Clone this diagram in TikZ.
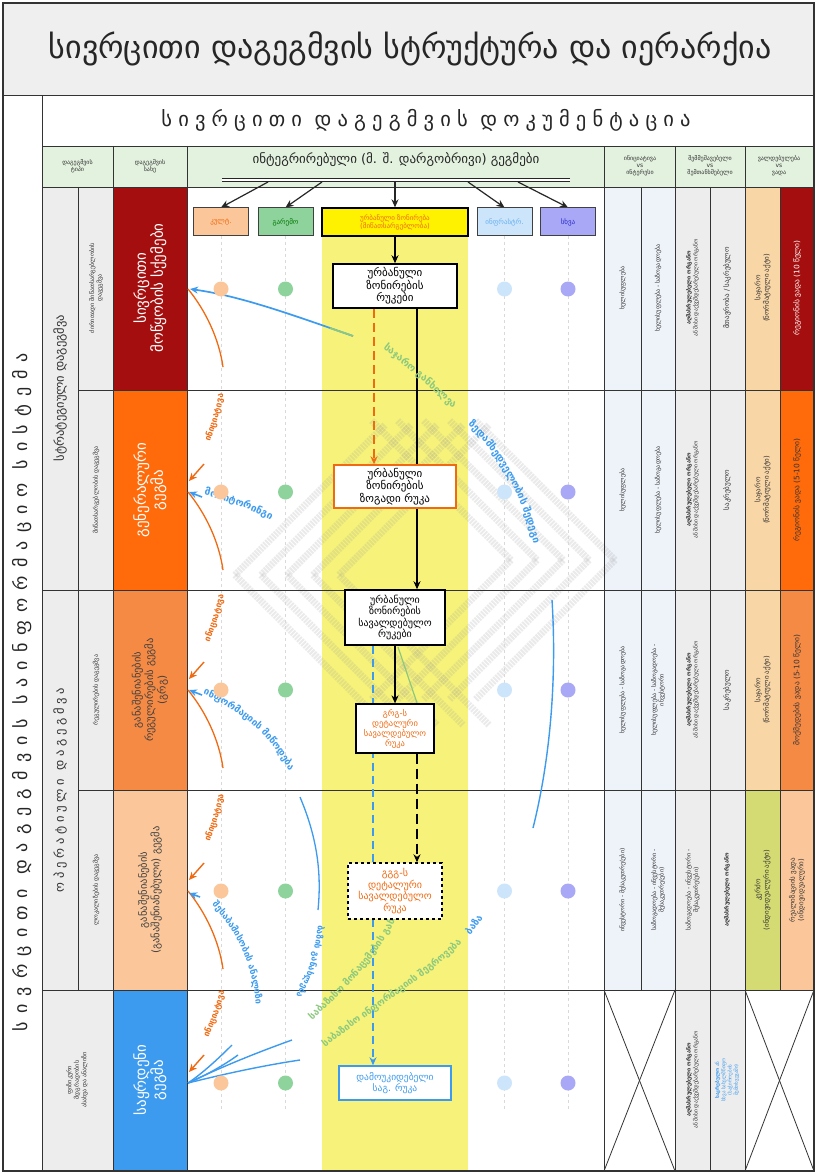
\documentclass[tikz,border=0pt]{standalone}
\usepackage{fontspec}
\setmainfont{DejaVu Sans}
\newfontfamily\gsp[LetterSpace=30]{DejaVu Sans}
\newfontfamily\gspw[LetterSpace=45]{DejaVu Sans}
\usetikzlibrary{arrows.meta,decorations.text}
\definecolor{dred}{HTML}{A50E0E}
\definecolor{orng}{HTML}{FF6A0A}
\definecolor{lorng}{HTML}{F58A45}
\definecolor{peach}{HTML}{FBC79A}
\definecolor{lpeach}{HTML}{F9D6A6}
\definecolor{bblue}{HTML}{3D9BEF}
\definecolor{hdrgreen}{HTML}{E3F1DF}
\definecolor{titlegray}{HTML}{EFEFEF}
\definecolor{cellgray}{HTML}{EDEDED}
\definecolor{cellblue}{HTML}{EEF3FA}
\definecolor{yband}{HTML}{F6F27A}
\definecolor{gbox}{HTML}{8DD39B}
\definecolor{ibox}{HTML}{CDE5FA}
\definecolor{pbox}{HTML}{A8A8F7}
\definecolor{ygreen}{HTML}{D4DB72}
\definecolor{ptxt}{HTML}{2A2AC8}
\definecolor{gtxt}{HTML}{8CC97E}
\definecolor{otxt}{HTML}{F06A12}
\definecolor{gridc}{HTML}{333333}
\pgfdeclarelayer{back}
\pgfdeclarelayer{mid}
\pgfsetlayers{back,mid,main}
\tikzset{
  cell/.style={rotate=90, align=center, font=\fontsize{6}{7.5}\selectfont, text=black!80, inner sep=1pt},
  bigcell/.style={rotate=90, align=center, font=\fontsize{15}{17}\selectfont, text=white, inner sep=1pt},
  midcell/.style={rotate=90, align=center, font=\fontsize{10.5}{12.5}\selectfont, text=black!75, inner sep=1pt},
  hdr/.style={align=center, font=\fontsize{6}{7}\selectfont, inner sep=0pt, text=black!80},
  topbox/.style={draw=black!75, line width=1pt, minimum height=28pt, minimum width=55pt, font=\fontsize{7}{8}\selectfont, inner sep=1pt, align=center},
  mapbox/.style={draw, line width=1.5pt, fill=white, align=center, font=\fontsize{10.5}{12}\selectfont, inner sep=1pt},
  dot/.style={circle, minimum size=15pt, inner sep=0pt},
  grid/.style={gridc, line width=0.8pt},
  arr/.style={-{Stealth[length=8pt,width=7pt]}},
}
\begin{document}
\begin{tikzpicture}[x=1pt,y=-1pt]
\useasboundingbox (0,0) rectangle (817,1174);

\begin{pgfonlayer}{back}
\fill[white] (0,0) rectangle (817,1174);
\fill[titlegray] (3,3) rectangle (814,95);
\fill[hdrgreen] (42,146) rectangle (814,187);
\fill[cellgray] (42,187) rectangle (113,1171);
\fill[dred] (113,187) rectangle (187,390);
\fill[orng] (113,390) rectangle (187,590);
\fill[lorng] (113,590) rectangle (187,790);
\fill[peach] (113,790) rectangle (187,990);
\fill[bblue] (113,990) rectangle (187,1171);
\fill[yband] (322,236) rectangle (468,1171);
\fill[cellblue] (604,187) rectangle (675,990);
\fill[cellgray] (675,187) rectangle (745,1171);
\fill[lpeach] (745,187) rectangle (780,790);
\fill[ygreen] (745,790) rectangle (780,990);
\fill[dred] (780,187) rectangle (814,390);
\fill[orng] (780,390) rectangle (814,590);
\fill[lorng] (780,590) rectangle (814,790);
\fill[peach] (780,790) rectangle (814,990);
% watermark
\begin{scope}[black!40, line width=7pt, opacity=0.2, dash pattern=on 2pt off 1pt]
\foreach \i in {0,1,2,3,4} {
  \draw (235+\i*26,575) -- (385+\i*26,425);
  \draw (235+\i*26,575) -- (385+\i*26,725);
  \draw (615-\i*26,560) -- (475-\i*26,420);
  \draw (615-\i*26,560) -- (475-\i*26,700);
}
\end{scope}
% dashed guide lines
\foreach \x in {221,285.5,504.5,568} {
  \draw[black!15, dashed, line width=1pt] (\x,236) -- (\x,1110);
}
% grid
\draw[grid, line width=1.2pt] (3,3) rectangle (814,1171);
\draw[grid] (3,95) -- (814,95);
\draw[grid] (42,95) -- (42,1171);
\draw[grid] (42,146) -- (814,146);
\draw[grid] (42,187) -- (814,187);
\foreach \x in {113,187,604,675,745} { \draw[grid] (\x,146) -- (\x,1171); }
\foreach \x in {641,780} { \draw[grid] (\x,187) -- (\x,990); }
\draw[grid] (78,187) -- (78,990);
\draw[grid] (710,187) -- (710,1171);
\draw[grid] (78,390) -- (814,390);
\draw[grid] (42,590) -- (814,590);
\draw[grid] (78,790) -- (814,790);
\draw[grid] (42,990) -- (814,990);
\draw[grid] (604,990) -- (675,1171);
\draw[grid] (675,990) -- (604,1171);
\draw[grid] (745,990) -- (814,1171);
\draw[grid] (814,990) -- (745,1171);
\end{pgfonlayer}

% titles
\node[font=\fontsize{32}{34}\selectfont, text=black!85] (title) at (410,49) {სივრცითი დაგეგმვის სტრუქტურა და იერარქია};
\node[font=\gsp\fontsize{20.5}{22}\selectfont, text=black!85] (sub) at (426,120) {სივრცითი დაგეგმვის დოკუმენტაცია};
\node[rotate=90, font=\gspw\fontsize{18}{20}\selectfont, text=black!85] (side) at (22,692) {სივრცითი დაგეგმვის საინფორმაციო სისტემა};

% header
\node[hdr] (h1) at (77.5,166) {დაგეგმვის\\ტიპი};
\node[hdr] (h2) at (150,166) {დაგეგმვის\\სახე};
\node[font=\fontsize{13}{15}\selectfont, text=black!85, inner sep=0pt] (h3) at (396,160) {ინტეგრირებული (მ. შ. დარგობრივი) გეგმები};
\draw[black!85, double, double distance=2.4pt, line width=0.8pt] (222,180) -- (570,180);
\node[hdr] (h4) at (640,166) {ინიციატივა\\vs\\ინტერესი};
\node[hdr] (h5) at (710,166) {შემმუშავებელი\\vs\\შემთანხმებელი};
\node[hdr] (h6) at (779,166) {ვალდებულება\\vs\\ვადა};

% column A
\node[rotate=90, font=\fontsize{12.5}{14}\selectfont, text=black!80] (sa) at (60,388) {სტრატეგიული დაგეგმვა};
\node[rotate=90, font=\gsp\fontsize{12.5}{14}\selectfont, text=black!80] (oa) at (60,790) {ოპერატიული დაგეგმვა};
\node[cell] (a1) at (96,288) {ძირითადი მიწათსარგებლობის\\დაგეგმვა};
\node[cell] (a2) at (96,490) {მიწათსარგებლობის დაგეგმვა};
\node[cell] (a3) at (96,690) {რეგულირების დაგეგმვა};
\node[cell] (a4) at (96,890) {ლოკალიზების დაგეგმვა};
\node[cell] (a5) at (77,1080) {ფიზიკური\\მდგრადობის\\ასახვა და ანალიზი};

% column B
\node[bigcell] (b1) at (150,288) {სივრცითი\\მოწყობის სქემები};
\node[bigcell] (b2) at (150,490) {გენერალური\\გეგმა};
\node[midcell] (b3) at (150,690) {განაშენიანების\\რეგულირების გეგმა\\(გრგ)};
\node[midcell] (b4) at (150,890) {განაშენიანების\\(განაშენიანებული) გეგმა};
\node[bigcell] (b5) at (150,1080) {საყრდენი\\გეგმა};

% right columns
\node[cell] (d11) at (622.5,288) {ხელისუფლება};
\node[cell] (d12) at (622.5,490) {ხელისუფლება};
\node[cell] (d13) at (622.5,690) {ხელისუფლება - საზოგადოება};
\node[cell] (d14) at (622.5,890) {ინვესტორი - მესაკუთრე(ები)};
\node[cell] (d21) at (658,288) {ხელისუფლება - საზოგადოება};
\node[cell] (d22) at (658,490) {ხელისუფლება - საზოგადოება};
\node[cell] (d23) at (658,690) {ხელისუფლება - საზოგადოება -\\ინვესტორი};
\node[cell] (d24) at (658,890) {საზოგადოება - ინვესტორი -\\მესაკუთრე(ები)};
\foreach \r/\y in {1/288,2/490,3/690} {
  \node[cell, font=\fontsize{5.5}{7}\selectfont] (e1\r) at (692.5,\y) {\textbf{აღმასრულებელი ორგანო}\\ან მისი დაქვემდებარებული ორგანო};
}
\node[cell] (e14) at (692.5,890) {საზოგადოება - ინვესტორი -\\მესაკუთრე(ები)};
\node[cell, font=\fontsize{5.5}{7}\selectfont] (e15) at (692.5,1080) {\textbf{აღმასრულებელი ორგანო}\\ან მისი დაქვემდებარებული ორგანო};
\node[cell, font=\fontsize{7}{8.5}\selectfont] (e21) at (727,288) {მთავრობა / საკრებულო};
\node[cell, font=\fontsize{7}{8.5}\selectfont] (e22) at (727,490) {საკრებულო};
\node[cell, font=\fontsize{7}{8.5}\selectfont] (e23) at (727,690) {საკრებულო};
\node[cell, font=\bfseries\fontsize{5.5}{7}\selectfont] (e24) at (727,890) {აღმასრულებელი ორგანო};
\node[cell, font=\fontsize{5}{6.2}\selectfont, text=bblue] (e25) at (727,1080) {\textbf{საკრებულო} ან\\სხვა სახელმწიფო\\(საჭიროების\\შემთხვევაში)};
\foreach \r/\y in {1/288,2/490,3/690} {
  \node[cell, font=\fontsize{7}{8.5}\selectfont] (f1\r) at (762.5,\y) {საჯარო\\(ნორმატიული აქტი)};
}
\node[cell, font=\fontsize{7}{8.5}\selectfont] (f14) at (762.5,890) {კერძო\\(ინდივიდუალური აქტი)};
\node[cell, font=\fontsize{7.5}{9}\selectfont, text=white] (f21) at (797,288) {რეგიონის ვადა (10 წელი)};
\node[cell, font=\fontsize{7.5}{9}\selectfont] (f22) at (797,490) {რეგიონის ვადა (5-10 წელი)};
\node[cell, font=\fontsize{7.5}{9}\selectfont] (f23) at (797,690) {მოქმედების ვადა (5-10 წელი)};
\node[cell, font=\fontsize{7}{8.5}\selectfont] (f24) at (797,890) {რეალიზაციის ვადა\\(ინდივიდუალური)};

% top boxes
\coordinate (s1) at (268,182);
\coordinate (s2) at (322,182);
\coordinate (s3) at (395,182);
\coordinate (s4) at (468,182);
\coordinate (s5) at (518,182);
\node[topbox, fill=peach, text=otxt] (kult) at (221,222) {კულტ.};
\node[topbox, fill=gbox, text=green!45!black] (gar) at (285.5,222) {გარემო};
\node[topbox, fill=yellow, text=otxt, minimum width=146pt, line width=1.3pt, draw=black] (urb) at (395,222) {ურბანული ზონირება\\(მიწათსარგებლობა)};
\node[topbox, fill=ibox, text=bblue!80] (inf) at (504.5,222) {ინფრასტრ.};
\node[topbox, fill=pbox, text=ptxt] (sxva) at (568,222) {სხვა};

% map boxes
\node[mapbox, minimum width=124pt, minimum height=44pt, font=\fontsize{11}{12.5}\selectfont] (A) at (395,286) {ურბანული\\ზონირების\\რუკები};
\node[mapbox, draw=otxt, line width=1.3pt, minimum width=122pt, minimum height=43pt, font=\fontsize{11}{12.5}\selectfont] (B) at (395,486.5) {ურბანული\\ზონირების\\ზოგადი რუკა};
\node[mapbox, minimum width=100pt, minimum height=55pt, font=\fontsize{10}{11.5}\selectfont] (C) at (395,617.5) {ურბანული\\ზონირების\\სავალდებულო\\რუკები};
\node[mapbox, line width=1.2pt, minimum width=78pt, minimum height=49pt, text=otxt, font=\fontsize{8.5}{10}\selectfont] (D) at (395,728.5) {გრგ-ს\\დეტალური\\სავალდებულო\\რუკა};
\node[mapbox, dashed, line width=1.4pt, minimum width=94pt, minimum height=56pt, text=otxt, font=\fontsize{10}{11.5}\selectfont] (E) at (395,891) {გგგ-ს\\დეტალური\\სავალდებულო\\რუკა};
\node[mapbox, draw=bblue, line width=1.5pt, minimum width=112pt, minimum height=34pt, text=bblue, font=\fontsize{9.5}{11}\selectfont] (F) at (395,1083) {დამოუკიდებელი\\საგ. რუკა};

% dots
\foreach \y [count=\r] in {289,492,690,891,1083} {
  \node[dot, fill=peach] (c1\r) at (221,\y) {};
  \node[dot, fill=gbox] (c2\r) at (285.5,\y) {};
  \node[dot, fill=ibox] (c3\r) at (504.5,\y) {};
  \node[dot, fill=pbox] (c4\r) at (568,\y) {};
}

\begin{pgfonlayer}{mid}
% header arrows
\draw[black!85, line width=1.2pt, arr] (s1) -- (kult.north);
\draw[black!85, line width=1.2pt, arr] (s2) -- (gar.north);
\draw[black!85, line width=1.2pt, arr] (s3) -- (urb.north);
\draw[black!85, line width=1.2pt, arr] (s4) -- (inf.north);
\draw[black!85, line width=1.2pt, arr] (s5) -- (sxva.north);
% central flow
\draw[black, line width=1.6pt, arr] (urb.south) -- (A.north);
\draw[black, line width=1.6pt, arr] ([xshift=22pt]A.south) -- ([xshift=22pt]C.north);
\draw[otxt, line width=1.3pt, dashed, dash pattern=on 9pt off 5pt, arr] ([xshift=-21pt]A.south) -- ([xshift=-21pt]B.north);
\draw[black, line width=1.8pt, arr] (C.south) -- (D.north);
\draw[black, line width=1.8pt, dash pattern=on 10pt off 5pt, arr] ([xshift=22pt]D.south) -- ([xshift=22pt]E.north);
\draw[bblue, line width=1.4pt, dash pattern=on 8pt off 5pt, arr] ([xshift=-22pt]C.south) -- ([xshift=-22pt]F.north);
\draw[gtxt, line width=1.2pt] (398,647) -- (417,703);

% orange flows
\foreach \yc/\yn in {289/492,492/690,690/891,891/1083} {
  \draw[otxt, line width=1.3pt] (188,\yc) .. controls (206,\yc+22) and (219,\yc+50) .. (223,\yc+78);
  \path[decorate, decoration={text along path, text align=center, text={|\bfseries\color{otxt}\fontsize{8.5}{8.5}\selectfont|ინიციატივა}}] (203,\yn-32) .. controls (214,\yn-60) and (224,\yc+115) .. (226,\yc+86);
  \draw[otxt, line width=1.4pt, arr] (204,\yn-28) -- (189,\yn-11);
}

% blue flows
\draw[bblue, line width=1.7pt, arr] (353,336) .. controls (290,314) and (240,296) .. (190,289);
\draw[gtxt, line width=1.7pt] (353,336) .. controls (345,333) and (338,331) .. (330,328);
\draw[bblue, line width=1.6pt, arr] (202,497) -- (189,492);
\path[decorate, decoration={text along path, text align=left, text={|\bfseries\color{bblue}\fontsize{10}{10}\selectfont|მონიტორინგი}}] (204,495) .. controls (235,502) and (265,515) .. (295,535);
\draw[bblue, line width=1.6pt, arr] (202,695) -- (189,690);
\path[decorate, decoration={text along path, text align=left, text={|\bfseries\color{bblue}\fontsize{9.5}{9.5}\selectfont|ინფორმაციის მიწოდება}}] (203,694) .. controls (240,710) and (280,740) .. (297,790);
\draw[bblue, line width=1.6pt, arr] (200,897) -- (189,893);
\path[decorate, decoration={text along path, text align=left, text={|\bfseries\color{bblue}\fontsize{9}{9}\selectfont|შესაბამისობის ანალიზი}}] (212,905) .. controls (235,930) and (252,960) .. (256,1005);
\draw[bblue, line width=1.3pt] (300,797) .. controls (316,835) and (322,870) .. (318,910);
\path[decorate, decoration={text along path, text align=left, text={|\bfseries\color{bblue}\fontsize{8.5}{8.5}\selectfont|ბაზის განახლება}}] (318,925) .. controls (312,980) and (290,1015) .. (250,1045);
\draw[bblue, line width=1.4pt] (232,1045) .. controls (215,1062) and (200,1075) .. (188,1083);
\draw[bblue, line width=1.4pt] (238,1055) .. controls (220,1068) and (200,1078) .. (188,1083);
\draw[bblue, line width=1.4pt] (292,1040) .. controls (250,1055) and (215,1070) .. (188,1083);
\draw[bblue, line width=1.4pt] (300,1060) .. controls (260,1066) and (220,1075) .. (188,1083);

% big arc on the right
\path[decorate, decoration={text along path, text align=left, text={|\bfseries\color{gtxt}\fontsize{10}{10}\selectfont|საჯარო განხილვა}}] (383,348) .. controls (410,370) and (440,395) .. (464,420);
\path[decorate, decoration={text along path, text align=left, text={|\bfseries\color{bblue}\fontsize{10}{10}\selectfont|ზედამხედველობის შედეგი}}] (468,425) .. controls (505,460) and (530,510) .. (540,575);
\draw[bblue, line width=1.4pt] (552,600) .. controls (557,680) and (550,760) .. (533,828);

% green diagonal texts
\path[decorate, decoration={text along path, text align=left, text={|\bfseries\color{gtxt}\fontsize{9.5}{9.5}\selectfont|საბაზისო მონაცემების განახლება}}] (312,1020) .. controls (380,960) and (428,900) .. (428,762);
\path[decorate, decoration={text along path, text align=left, text={|\bfseries\color{gtxt}\fontsize{9.5}{9.5}\selectfont|საბაზისო ინფორმაციის შეგროვება}}] (325,1047) .. controls (380,1005) and (430,975) .. (468,937);
\path[decorate, decoration={text along path, text align=left, text={|\bfseries\color{bblue}\fontsize{9.5}{9.5}\selectfont|ბაზა}}] (470,935) .. controls (490,910) and (510,885) .. (524,860);
\end{pgfonlayer}
\end{tikzpicture}
\end{document}
